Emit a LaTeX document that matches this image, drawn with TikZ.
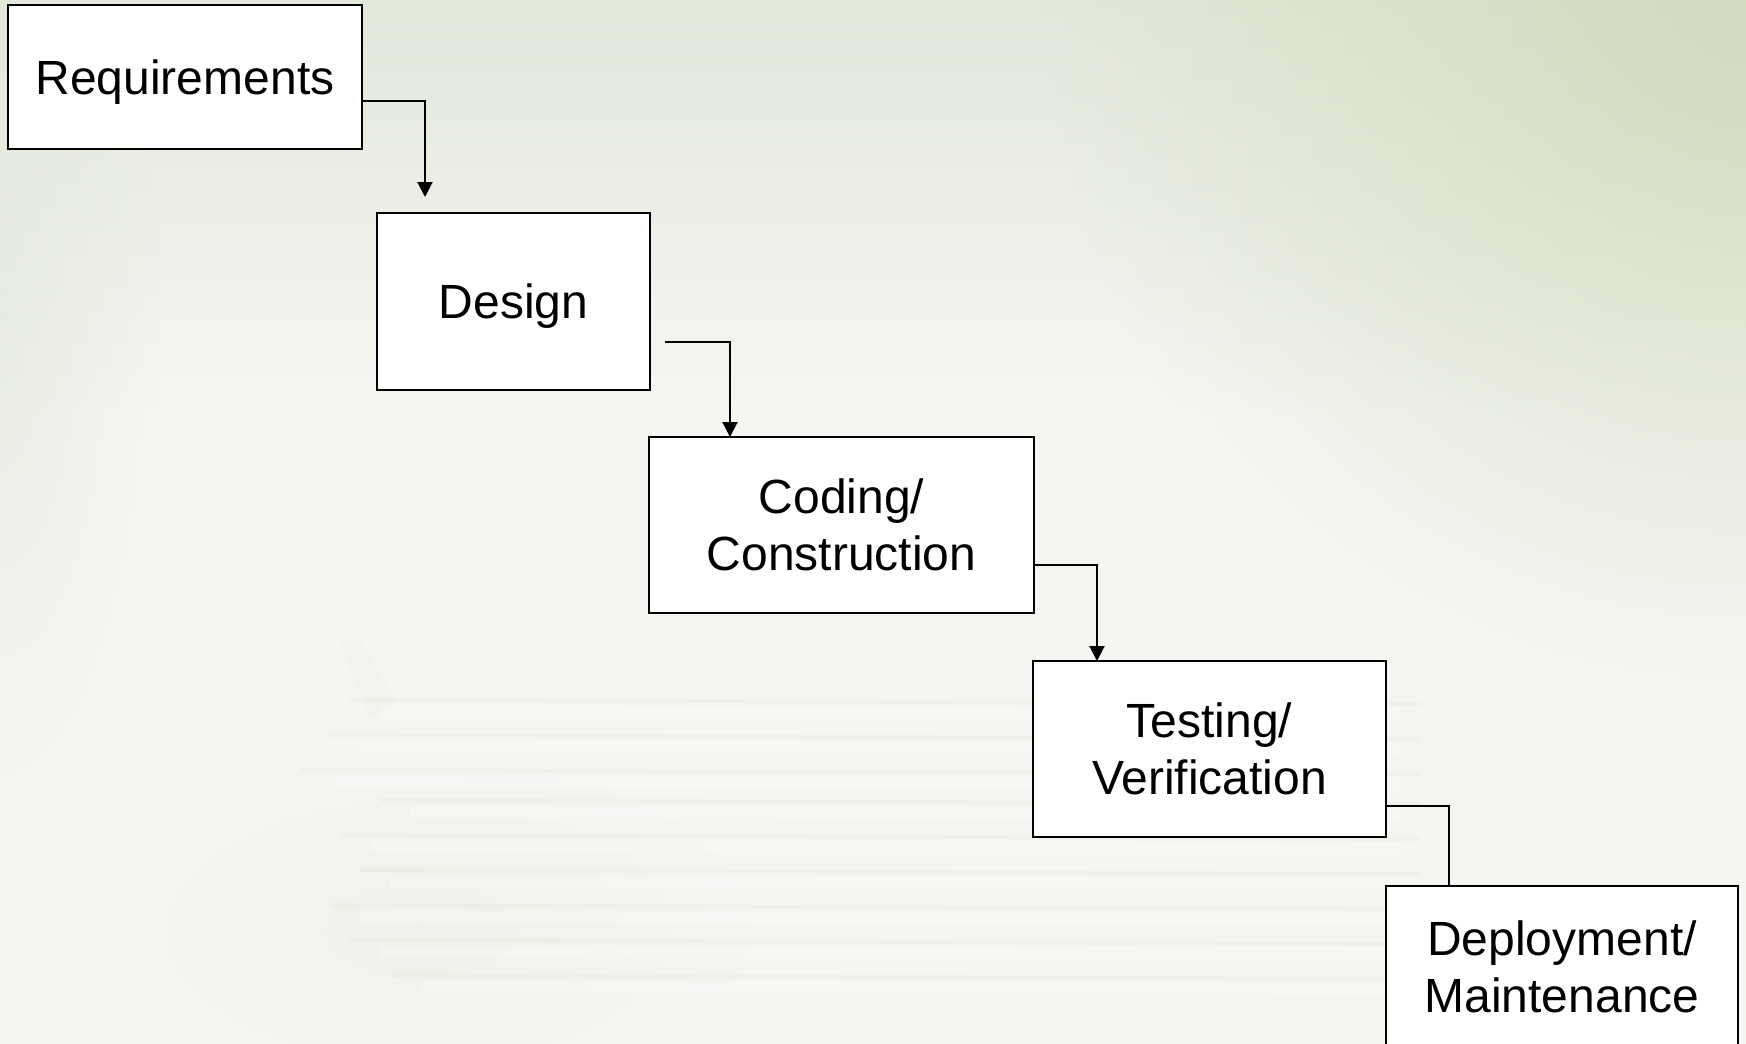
\documentclass[tikz,border=0pt]{standalone}
\usepackage{fontspec}
\setmainfont{Liberation Sans}
\usetikzlibrary{calc,arrows.meta,fadings}
\definecolor{bgbase}{RGB}{245,246,242}
\definecolor{bgtop}{RGB}{226,232,218}
\definecolor{bggreen}{RGB}{206,217,186}
\definecolor{paperline}{RGB}{230,234,222}
\definecolor{paperwhite}{RGB}{252,252,250}
\tikzfading[name=fuzzyradial, inner color=transparent!0, outer color=transparent!100]
\tikzset{
  stagebox/.style={draw=black, line width=1pt, fill=white, rectangle, inner sep=0pt, outer sep=0pt,
    align=center, font=\fontsize{24}{28.5}\selectfont},
  conn/.style={draw=black, line width=1pt},
  connarrow/.style={conn, -{Triangle[width=7.5pt,length=7.5pt]}}
}
\begin{document}
\begin{tikzpicture}[x=0.5pt,y=-0.5pt]
\useasboundingbox (0,0) rectangle (1746,1044);
% background
\fill[bgbase] (0,0) rectangle (1746,1044);
\shade[top color=bgtop, bottom color=bgbase] (0,0) rectangle (1746,420);
\fill[bggreen, opacity=0.85, path fading=fuzzyradial] (1746,0) circle (700);
\fill[bgtop, opacity=0.6, path fading=fuzzyradial] (0,330) ellipse (160 and 500);
% faint paper stack
\begin{scope}[opacity=0.35]
\fill[paperline, path fading=fuzzyradial] (420,930) ellipse (330 and 170);
\fill[paperline!70!bgbase] (340,640) -- (360,640) -- (395,700) -- (370,720) -- cycle;
\foreach \y/\x in {700/350,735/330,770/300,800/380,835/340,870/360,905/330,940/350,975/390}{
  \draw[paperline, line width=2pt] (\x,\y) -- (1420,\y+4);
  \draw[paperwhite, line width=6pt] (\x+30,\y+12) -- (1400,\y+14);
}
\end{scope}
% stages
\node[stagebox, text depth=0pt, minimum width=177pt, minimum height=72pt] (req) at (185,77) {Requirements};
\node[stagebox, text depth=0pt, minimum width=136.5pt, minimum height=88.5pt] (des) at (513.5,301.5) {Design};
\node[stagebox, minimum width=192.5pt, minimum height=88pt] (cod) at (841.5,525) {Coding/\\Construction};
\node[stagebox, minimum width=176.5pt, minimum height=88pt] (tes) at (1209.5,749) {Testing/\\Verification};
\node[stagebox, minimum width=176pt, minimum height=81pt] (dep) at (1562,967) {Deployment/\\Maintenance};
% connectors
\coordinate (reqend) at ($(des.north)+(-88.5,-16)$);
\draw[connarrow] ($(req.east)+(0,24)$) -| (reqend);
\draw[connarrow] ($(des.east)+(15,40)$) -| ($(cod.north)+(-111.5,0)$);
\draw[connarrow] ($(cod.east)+(0,40)$) -| ($(tes.north)+(-112.5,0)$);
\draw[conn] ($(tes.east)+(0,57)$) -| ($(dep.north)+(-113,0)$);
\end{tikzpicture}
\end{document}
